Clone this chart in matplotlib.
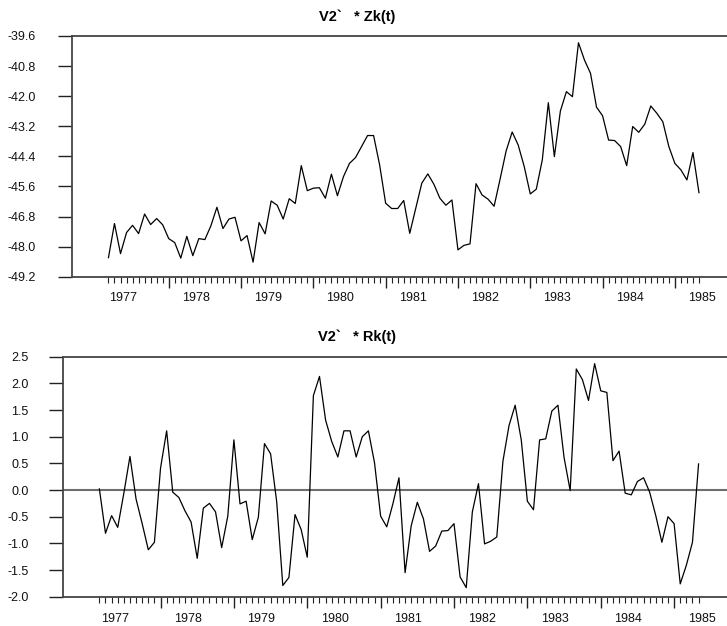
import matplotlib.pyplot as plt
import numpy as np

plt.rcParams['font.family'] = ['Liberation Sans', 'DejaVu Sans']

# monthly series, Nov 1976 .. Jan 1985
start_year = 1976
start_month = 10  # 0-based month index of first observation (November)

zk = [-48.44, -47.08, -48.28, -47.44, -47.15, -47.48, -46.70, -47.12, -46.88, -47.13,
      -47.68, -47.84, -48.46, -47.59, -48.36, -47.68, -47.72, -47.17, -46.43, -47.28,
      -46.90, -46.83, -47.77, -47.56, -48.62, -47.04, -47.49, -46.18, -46.35, -46.90,
      -46.09, -46.28, -44.77, -45.77, -45.67, -45.65, -46.07, -45.11, -45.97, -45.21,
      -44.68, -44.45, -44.01, -43.57, -43.57, -44.74, -46.27, -46.48, -46.48, -46.16,
      -47.47, -46.47, -45.47, -45.10, -45.51, -46.07, -46.35, -46.14, -48.13, -47.95,
      -47.89, -45.49, -45.94, -46.11, -46.39, -45.30, -44.18, -43.43, -43.95, -44.81,
      -45.90, -45.71, -44.54, -42.26, -44.41, -42.59, -41.82, -42.02, -39.87, -40.56,
      -41.09, -42.44, -42.78, -43.75, -43.77, -44.01, -44.77, -43.21, -43.44, -43.12,
      -42.39, -42.68, -43.02, -44.01, -44.68, -44.94, -45.34, -44.25, -45.85]

rk = [0.02, -0.81, -0.48, -0.70, -0.06, 0.63, -0.17, -0.63, -1.12, -0.98,
      0.41, 1.11, -0.04, -0.14, -0.39, -0.60, -1.28, -0.34, -0.25, -0.41,
      -1.08, -0.49, 0.94, -0.26, -0.21, -0.93, -0.51, 0.87, 0.68, -0.22,
      -1.79, -1.64, -0.46, -0.74, -1.26, 1.77, 2.13, 1.31, 0.91, 0.62,
      1.11, 1.11, 0.62, 1.00, 1.11, 0.51, -0.49, -0.69, -0.26, 0.23,
      -1.55, -0.67, -0.23, -0.54, -1.15, -1.05, -0.77, -0.76, -0.63, -1.63,
      -1.83, -0.41, 0.12, -1.01, -0.96, -0.88, 0.54, 1.21, 1.59, 0.94,
      -0.21, -0.37, 0.94, 0.96, 1.48, 1.59, 0.61, -0.01, 2.27, 2.07,
      1.68, 2.37, 1.86, 1.83, 0.55, 0.73, -0.06, -0.09, 0.16, 0.23,
      -0.04, -0.48, -0.98, -0.50, -0.63, -1.76, -1.41, -0.98, 0.49]

years = list(range(1977, 1986))
zk_ticks = [-39.6, -40.8, -42.0, -43.2, -44.4, -45.6, -46.8, -48.0, -49.2]
rk_ticks = [2.5, 2.0, 1.5, 1.0, 0.5, 0.0, -0.5, -1.0, -1.5, -2.0]

n = len(zk)
t = start_year + (start_month + np.arange(n)) / 12.0
xlim = (t[0] - 6 / 12, t[0] + 102.65 / 12)
big_ticks = t[10::12]

W, H = 727, 626
fig = plt.figure(figsize=(W / 100, H / 100), dpi=100)

def make_axes(left, top, bottom):
    return fig.add_axes([left / W, 1 - bottom / H, (W - left) / W, (bottom - top) / H])

ax1 = make_axes(72.3, 36, 276.7)
ax2 = make_axes(62.7, 356.7, 596.7)

spine_col = '#444444'

def style(ax, yticks, fmt, ypad, xpad):
    ax.set_xlim(*xlim)
    ax.set_ylim(min(yticks), max(yticks))
    ax.spines['right'].set_visible(False)
    for s in ['left', 'top', 'bottom']:
        ax.spines[s].set_color(spine_col)
        ax.spines[s].set_linewidth(1.3)
    ax.set_yticks(yticks)
    ax.set_yticklabels([fmt.format(v) for v in yticks])
    ax.tick_params(axis='y', direction='out', length=10, width=1.0, color='#222222',
                   labelsize=9, pad=ypad, labelcolor='#111111')
    # monthly minor ticks and the longer yearly ones
    ax.set_xticks(big_ticks)
    ax.set_xticklabels([])
    ax.set_xticks(t, minor=True)
    ax.tick_params(axis='x', which='major', direction='out', length=8, width=1.0,
                   color='#222222')
    ax.tick_params(axis='x', which='minor', direction='out', length=4, width=0.8,
                   color='#222222')
    sec = ax.secondary_xaxis('bottom')
    sec.set_xticks([y + 1 / 24 for y in years])
    sec.set_xticklabels([str(y) for y in years])
    sec.tick_params(length=0, labelsize=9, pad=xpad, labelcolor='#111111')
    sec.spines['bottom'].set_visible(False)

ax1.plot(t, zk, color='black', lw=0.9)
style(ax1, zk_ticks, '{:.1f}', 16, 11)

ax2.axhline(0.0, color='#6e6e6e', lw=1.5, zorder=1)
ax2.plot(t, rk, color='black', lw=0.9, zorder=2)
style(ax2, rk_ticks, '{:.1f}', 14.5, 11.5)

fig.text(357 / W, 1 - 17 / H, 'V2`   * Zk(t)', ha='center', va='center',
         fontsize=10.5, fontweight='bold')
fig.text(357 / W, 1 - 337 / H, 'V2`   * Rk(t)', ha='center', va='center',
         fontsize=10.5, fontweight='bold')

fig.savefig('out.png', dpi=100)
